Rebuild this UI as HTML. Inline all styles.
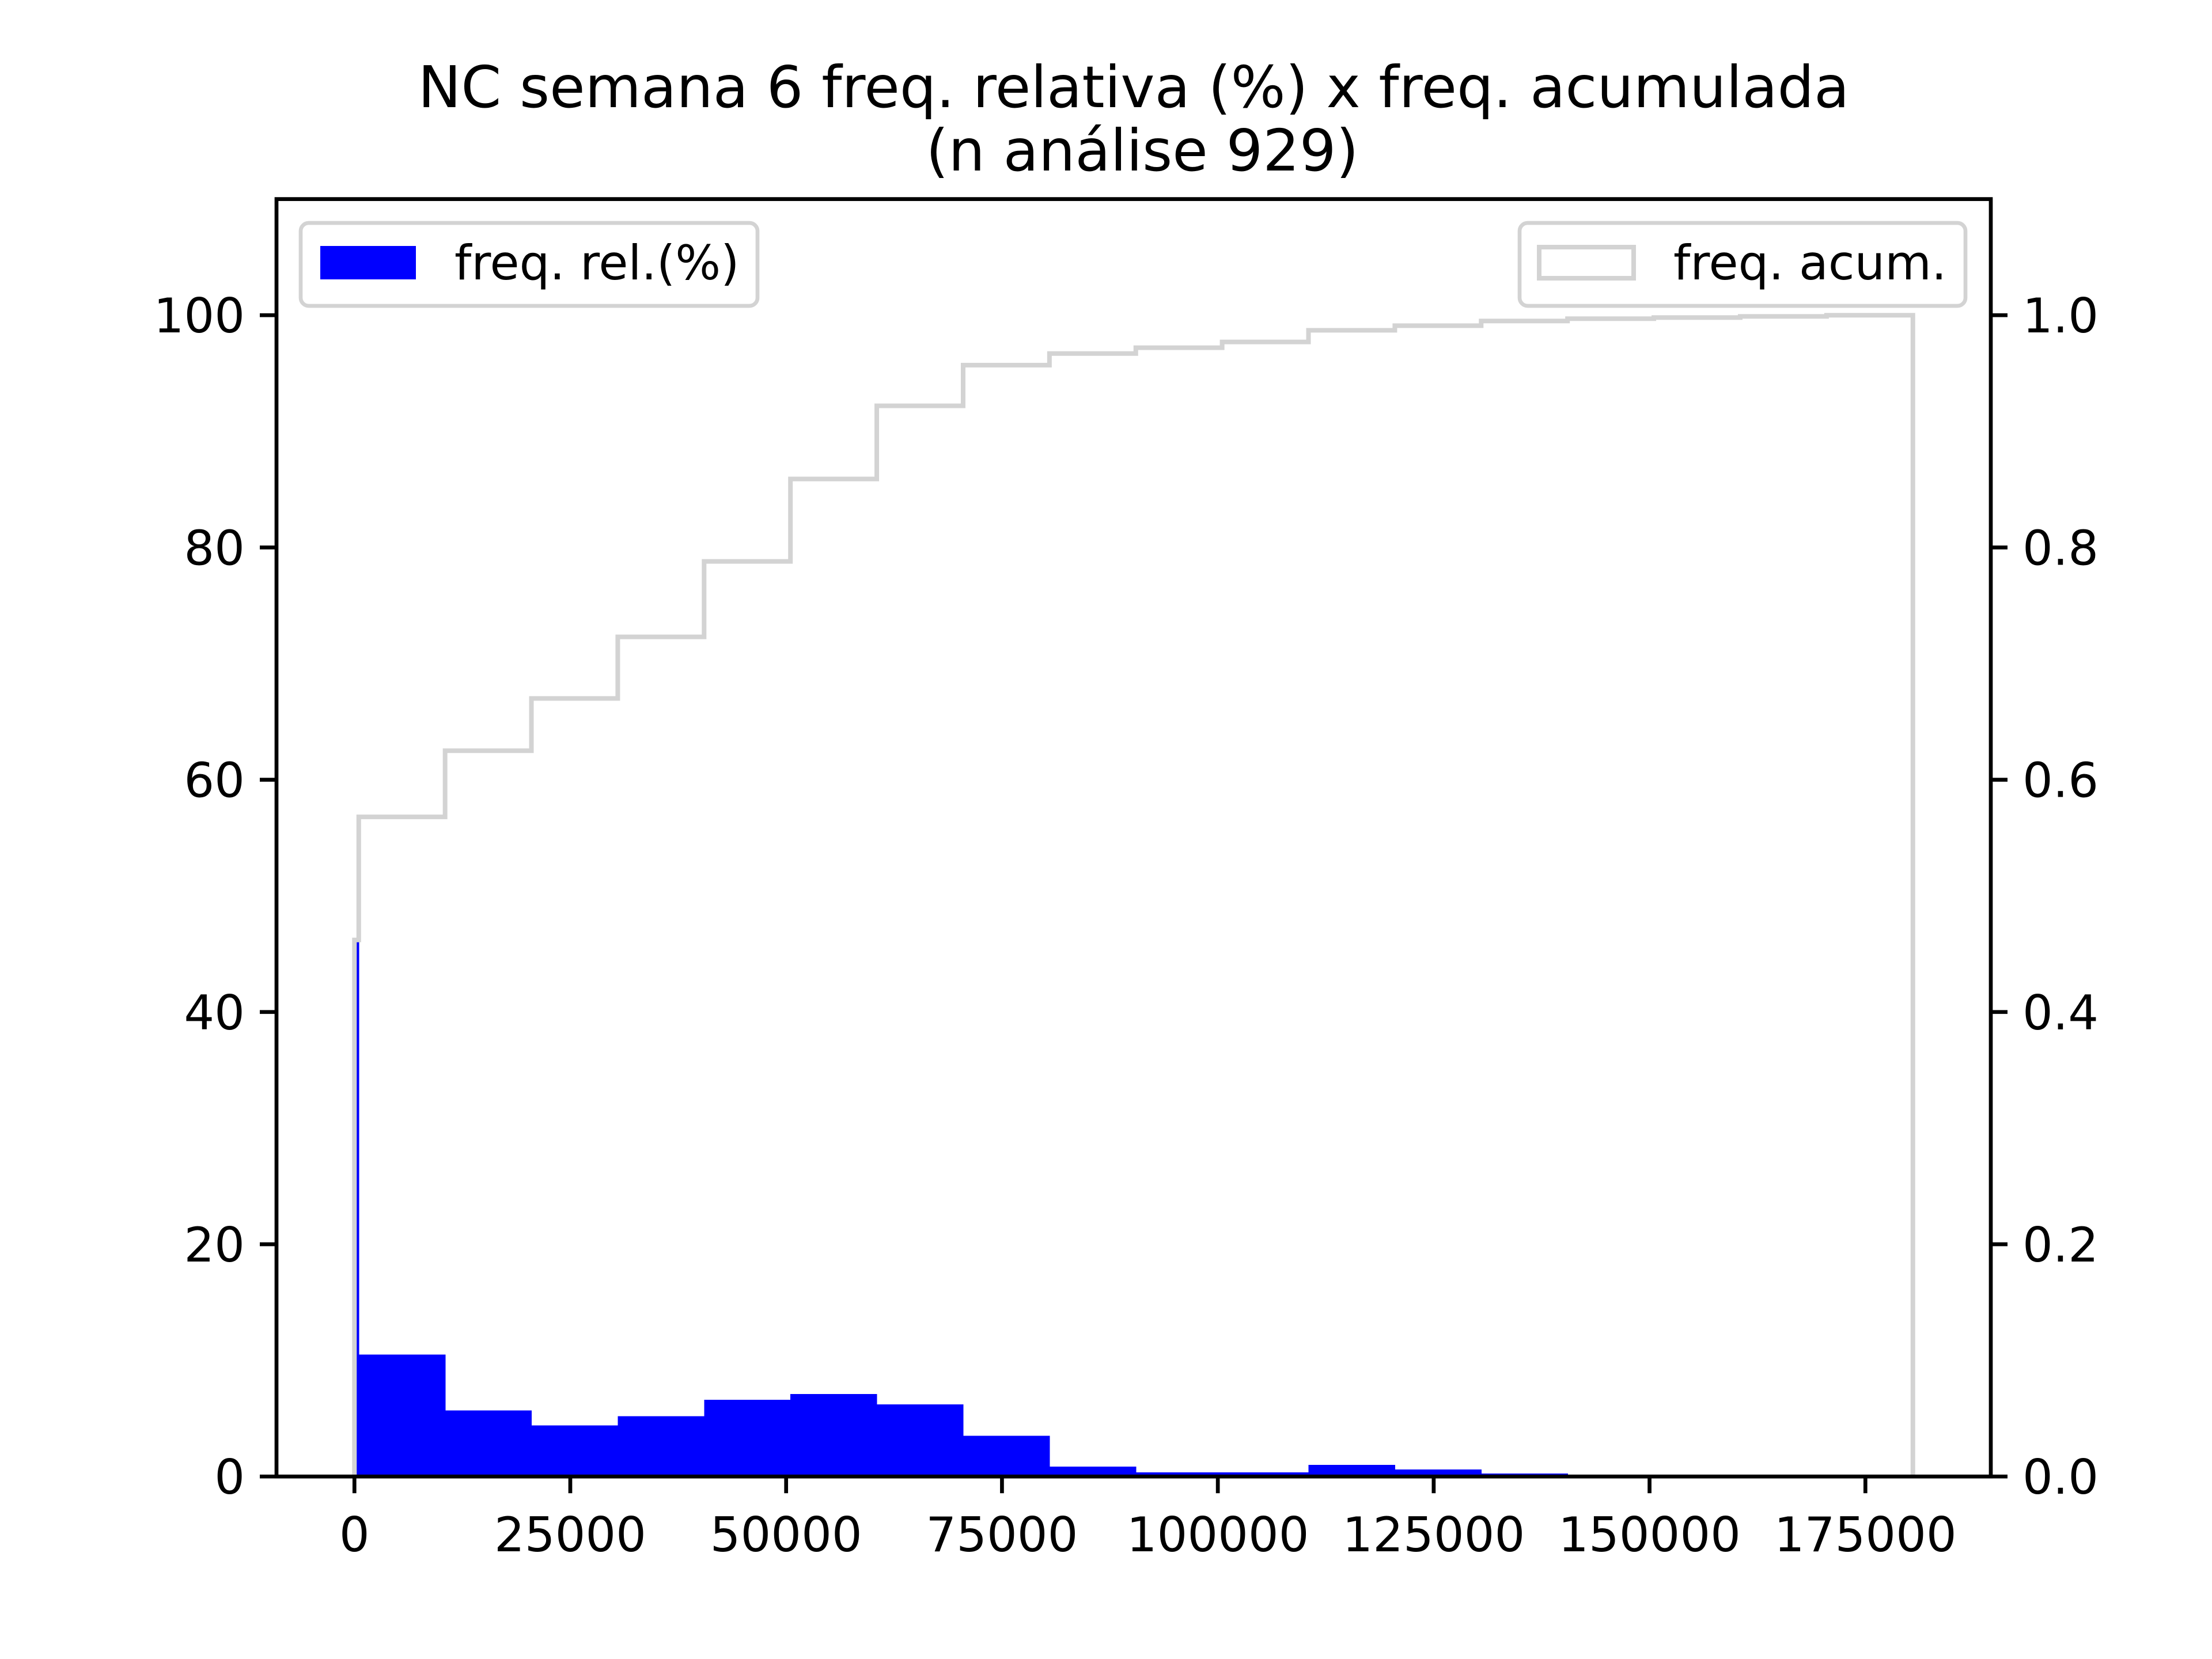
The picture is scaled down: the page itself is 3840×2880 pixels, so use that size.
<!DOCTYPE html>
<html><head><meta charset="utf-8">
<style>html,body{margin:0;padding:0;background:#fff}svg{display:block}text{font-family:"DejaVu Sans","Liberation Sans",sans-serif}</style>
</head><body>
<svg id="chart" width="3840" height="2880" viewBox="0 0 3840 2880" xmlns="http://www.w3.org/2000/svg">
<rect width="3840" height="2880" fill="#fff"/>
<text x="1968" y="186" font-size="100" text-anchor="middle">NC semana 6 freq. relativa (%) x freq. acumulada</text>
<text x="1983" y="296" font-size="100" text-anchor="middle">(n análise 929)</text>
<g id="marks"></g>
<g id="axes"></g>
<g>
<rect x="522" y="387" width="793" height="144" rx="14" fill="#fff" fill-opacity="0.8" stroke="#d3d3d3" stroke-width="6.7"/>
<rect x="556" y="427" width="166" height="58" fill="#0000ff"/>
<text x="789" y="485" font-size="83">freq. rel.(%)</text>
</g>
<g>
<rect x="2638" y="387" width="774" height="144" rx="14" fill="#fff" fill-opacity="0.8" stroke="#d3d3d3" stroke-width="6.7"/>
<rect x="2672" y="429" width="164" height="54" fill="none" stroke="#d3d3d3" stroke-width="8"/>
<text x="2905" y="485" font-size="83">freq. acum.</text>
</g>
</svg>
<script>
const binEdges = [0,500,10500,20500,30500,40500,50500,60500,70500,80500,90500,100500,110500,120500,130500,140500,150500,160500,170500,180500];
const relFreq = [46.2,10.5,5.7,4.4,5.2,6.6,7.1,6.2,3.5,0.85,0.35,0.35,1.0,0.6,0.25,0.1,0.05,0,0.1];
const cumFreq = [0.462,0.568,0.625,0.670,0.723,0.788,0.859,0.922,0.957,0.967,0.972,0.977,0.987,0.991,0.995,0.997,0.998,0.999,1.0];
const xTicks = [0,25000,50000,75000,100000,125000,150000,175000];
const yTicksLeft = [0,20,40,60,80,100];
const yTicksRight = [0,0.2,0.4,0.6,0.8,1.0];
const yTicksRightLabels = ["0.0","0.2","0.4","0.6","0.8","1.0"];

const L=480,R=3456,T=345.6,B=2563.2;
const xmin=-9025,xmax=189525;
const X=v=>L+(v-xmin)/(xmax-xmin)*(R-L);
const Y1=v=>B-v/110*(B-T);
const Y2=v=>B-v/1.1*(B-T);
const NS="http://www.w3.org/2000/svg";
const marks=document.getElementById('marks'),axes=document.getElementById('axes');
function mk(tag,attrs,parent){const e=document.createElementNS(NS,tag);for(const k in attrs)e.setAttribute(k,attrs[k]);parent.appendChild(e);return e;}

relFreq.forEach((v,i)=>{
  if(v<=0)return;
  const x0=X(binEdges[i]),x1=X(binEdges[i+1]);
  const r=mk('rect',{x:x0,y:Y1(v),width:x1-x0+0.6,height:B-Y1(v),fill:'#0000ff','shape-rendering':'crispEdges'},marks);
  
  
});
let d='M'+X(binEdges[0])+','+Y2(0);
cumFreq.forEach((v,i)=>{d+=' L'+X(binEdges[i])+','+Y2(v)+' L'+X(binEdges[i+1])+','+Y2(v);});
d+=' L'+X(binEdges[binEdges.length-1])+','+Y2(0);
const p=mk('path',{d:d,fill:'none',stroke:'#d3d3d3','stroke-width':8},marks);



const fr=mk('rect',{x:L,y:T,width:R-L,height:B-T,fill:'none',stroke:'#000','stroke-width':6.7},axes);


xTicks.forEach(v=>{
  const x=X(v);
  const t=mk('line',{x1:x,x2:x,y1:B,y2:B+29,stroke:'#000','stroke-width':6.7},axes);
  
  
  const tx=mk('text',{x:x,y:B+130,'font-size':83,'text-anchor':'middle'},axes);
  tx.textContent=String(v);
  
  
});
yTicksLeft.forEach(v=>{
  const y=Y1(v);
  const t=mk('line',{x1:L-29,x2:L,y1:y,y2:y,stroke:'#000','stroke-width':6.7},axes);
  
  
  const tx=mk('text',{x:L-55,y:y+30,'font-size':83,'text-anchor':'end'},axes);
  tx.textContent=String(v);
  
  
});
yTicksRight.forEach((v,i)=>{
  const y=Y2(v);
  const t=mk('line',{x1:R,x2:R+29,y1:y,y2:y,stroke:'#000','stroke-width':6.7},axes);
  
  
  const tx=mk('text',{x:R+55,y:y+30,'font-size':83,'text-anchor':'start'},axes);
  tx.textContent=yTicksRightLabels[i];
  
  
});
</script>
</body></html>
